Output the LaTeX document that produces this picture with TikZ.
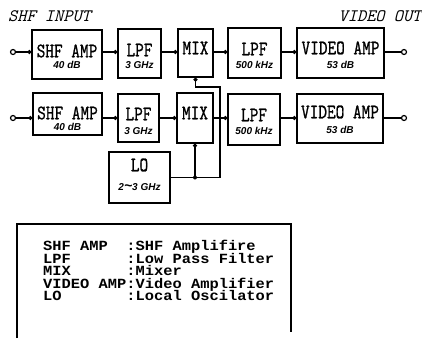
\documentclass[tikz,border=0pt]{standalone}
\usepackage{fontspec}
\usepackage{graphicx}
\usetikzlibrary{arrows.meta}
\newfontfamily\legfont{Liberation Mono}[FakeStretch=1.1]
\newfontfamily\subfnt{Liberation Sans}
\newfontfamily\boxfnt{Latin Modern Mono}[FakeBold=1.2]
\newcommand\mlab[1]{\scalebox{0.82}[1]{\boxfnt\fontsize{20.5}{21}\selectfont #1}}
\tikzset{
  blk/.style={draw, line width=1.4pt, inner sep=0pt},
  mlbl/.style={inner sep=0pt, text height=12.5pt, text depth=0pt},
  slbl/.style={inner sep=0pt, text height=7.4pt, text depth=0pt,
    font=\subfnt\bfseries\itshape\fontsize{10}{12}\selectfont},
  sig/.style={line width=1.3pt, -{Circle[length=4pt]}},
  wire/.style={line width=1.3pt},
  term/.style={circle, draw, line width=1.2pt, minimum size=5pt, inner sep=0pt, fill=white},
  leg/.style={anchor=base west, inner sep=0pt, text height=9pt, text depth=2pt,
    font=\legfont\bfseries\fontsize{14}{15}\selectfont},
  ttl/.style={anchor=base west, inner sep=0pt,
    font=\ttfamily\itshape\fontsize{17.5}{18}\selectfont},
}
\begin{document}
\begin{tikzpicture}[x=1pt,y=-1pt]
\useasboundingbox (0,0) rectangle (422,338);

% titles
\node[ttl] (tin) at (8,21) {SHF INPUT};
\node[ttl] (tout) at (338.5,21) {VIDEO OUT};

% row coordinates
\coordinate (r1) at (0,52);
\coordinate (r2) at (0,118);

% row 1 boxes
\node[blk, minimum width=70pt, minimum height=49pt] (shf1) at (67,54.5) {};
\node[blk, minimum width=43pt, minimum height=49pt] (lpf1) at (139.5,53.5) {};
\node[blk, minimum width=35pt, minimum height=48pt] (mix1) at (195.5,53) {};
\node[blk, minimum width=53pt, minimum height=50pt] (lpfb1) at (254.5,53) {};
\node[blk, minimum width=87pt, minimum height=50pt] (vid1) at (340.5,53) {};

% row 2 boxes
\node[blk, minimum width=69pt, minimum height=42pt] (shf2) at (67.5,114) {};
\node[blk, minimum width=41pt, minimum height=48pt] (lpf2) at (138.5,118) {};
\node[blk, minimum width=36pt, minimum height=50pt] (mix2) at (195,118) {};
\node[blk, minimum width=52pt, minimum height=51pt] (lpfb2) at (254,119.5) {};
\node[blk, minimum width=86pt, minimum height=49pt] (vid2) at (340,118.5) {};
\node[blk, minimum width=61pt, minimum height=51pt] (lo) at (139.5,177.5) {};

% box labels row 1
\node[mlbl] (shf1m) at (67,51) {\mlab{SHF AMP}};
\node[slbl] (shf1s) at (67,65) {40 dB};
\node[mlbl] (lpf1m) at (139.5,50) {\mlab{LPF}};
\node[slbl] (lpf1s) at (139.5,65) {3 GHz};
\node[mlbl] (mix1m) at (195.5,48) {\mlab{MIX}};
\node[mlbl] (lpfb1m) at (254.5,49) {\mlab{LPF}};
\node[slbl] (lpfb1s) at (254.5,65) {500 kHz};
\node[mlbl] (vid1m) at (340.5,48) {\mlab{VIDEO AMP}};
\node[slbl] (vid1s) at (340.5,65) {53 dB};

% box labels row 2
\node[mlbl] (shf2m) at (67.5,113) {\mlab{SHF AMP}};
\node[slbl] (shf2s) at (67.5,127) {40 dB};
\node[mlbl] (lpf2m) at (138.5,114) {\mlab{LPF}};
\node[slbl] (lpf2s) at (138.5,131) {3 GHz};
\node[mlbl] (mix2m) at (195,113) {\mlab{MIX}};
\node[mlbl] (lpfb2m) at (254,115) {\mlab{LPF}};
\node[slbl] (lpfb2s) at (254,131) {500 kHz};
\node[mlbl] (vid2m) at (340,112) {\mlab{VIDEO AMP}};
\node[slbl] (vid2s) at (340,130) {53 dB};
\node[mlbl] (lom) at (139.5,165) {\mlab{LO}};
\node[slbl] (los) at (139.5,187) {2\scalebox{1.4}{\textasciitilde}3 GHz};

% terminals
\node[term] (in1) at (13,52) {};
\node[term] (in2) at (13,118) {};
\node[term] (out1) at (404,52) {};
\node[term] (out2) at (404,118) {};

% row 1 signal path
\draw[sig] (in1) -- (shf1.west |- r1);
\draw[sig] (shf1.east |- r1) -- (lpf1.west |- r1);
\draw[sig] (lpf1.east |- r1) -- (mix1.west |- r1);
\draw[sig] (mix1.east |- r1) -- (lpfb1.west |- r1);
\draw[sig] (lpfb1.east |- r1) -- (vid1.west |- r1);
\draw[wire] (vid1.east |- r1) -- (out1);

% row 2 signal path
\draw[sig] (in2) -- (shf2.west |- r2);
\draw[sig] (shf2.east |- r2) -- (lpf2.west |- r2);
\draw[sig] (lpf2.east |- r2) -- (mix2.west |- r2);
\draw[sig] (mix2.east |- r2) -- (lpfb2.west |- r2);
\draw[sig] (lpfb2.east |- r2) -- (vid2.west |- r2);
\draw[wire] (vid2.east |- r2) -- (out2);

% LO distribution
\coordinate (j1) at (mix2.south |- lo.east);
\coordinate (c1) at (220,177.5);
\coordinate (c2) at (220,87);
\draw[sig] (lo.east) -- (c1) -- (c2) -- (c2 -| mix1.south) -- (mix1.south);
\draw[sig] (j1) -- (mix2.south);
\fill (j1) circle (2pt);

% legend
\draw[line width=1.2pt] (17,338) -- (17,224) -- (291,224) -- (291,332);
\node[leg] (l1) at (43,250.5) {SHF AMP~~:SHF Amplifire};
\node[leg] (l2) at (43,263) {LPF~~~~~~:Low Pass Filter};
\node[leg] (l3) at (43,275.5) {MIX~~~~~~:Mixer};
\node[leg] (l4) at (43,288) {VIDEO AMP:Video Amplifier};
\node[leg] (l5) at (43,300.5) {LO~~~~~~~:Local Oscilator};
\end{tikzpicture}
\end{document}
